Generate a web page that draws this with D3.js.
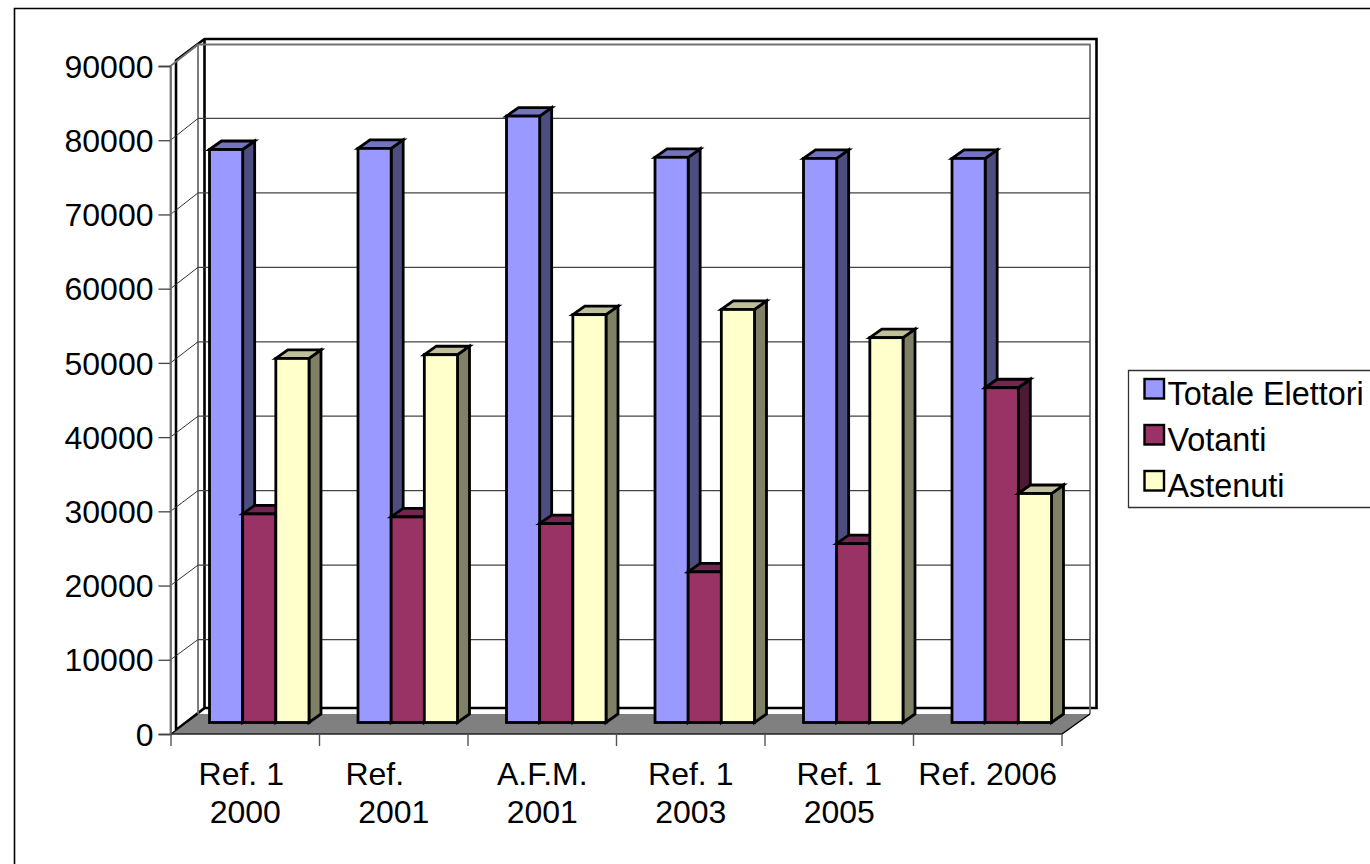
<!DOCTYPE html>
<html><head><meta charset="utf-8">
<script src="https://cdn.jsdelivr.net/npm/d3@7"></script>
<style>html,body{margin:0;padding:0;background:#fff;overflow:hidden}svg{display:block}text{font-family:"Liberation Sans",Arial,sans-serif;fill:#000}</style>
</head><body><svg id="c" width="1370" height="864"></svg>
<script>
const categories=[["Ref. 1","2000"],["Ref.","2001"],["A.F.M.","2001"],["Ref. 1","2003"],["Ref. 1","2005"],["Ref. 2006"]];
const seriesNames=["Totale Elettori","Votanti","Astenuti"];
const totale=[77200,77350,81700,76150,76000,76000];
const votanti=[28100,27700,26800,20300,24100,45100];
const astenuti=[49050,49550,54950,55650,51850,30850];
const tickValues=[0,10000,20000,30000,40000,50000,60000,70000,80000,90000];
const seriesValues=[totale,votanti,astenuti];
const faces=[["#9999ff","#7373bf","#4d4d80"],["#993366","#732650","#4d1a33"],["#ffffcc","#bfbf99","#808066"]];
const FS=32;
const svg=d3.select("#c");
svg.append("path").attr("d","M14.5,870V8.5H1380").attr("fill","none").attr("stroke","#000").attr("stroke-width",1.6);
const depth={dx:12,dy:-8.5};
const yFront=d3.scaleLinear().domain([0,90000]).range([734,66]);
const yBack=d3.scaleLinear().domain([0,90000]).range([714,44]);
const yBar=d3.scaleLinear().domain([0,90000]).range([722.5,54.5]);
const x=d3.scaleBand().domain(d3.range(6)).range([171,1062]);
const xs=d3.scaleBand().domain(d3.range(3)).range([38.5,138]);
svg.append("path").attr("d","M176,730V60.5L204.5,39H1096.5V708H204.5M204.5,39V708L176,730").attr("fill","none").attr("stroke","#000").attr("stroke-width",2.6);
svg.append("path").attr("d","M170.5,734V66L198,44.5H1090V714M198,44.5V714").attr("fill","none").attr("stroke","#707070").attr("stroke-width",1.8);
const grid=svg.append("g");
tickValues.filter(v=>v>0&&v<90000).forEach(v=>{
  grid.append("line").attr("x1",198).attr("x2",1090).attr("y1",yBack(v)).attr("y2",yBack(v)).attr("stroke","#444").attr("stroke-width",1.3);
  grid.append("line").attr("x1",170.5).attr("x2",198).attr("y1",yFront(v)).attr("y2",yBack(v)).attr("stroke","#333").attr("stroke-width",1);
});
svg.append("path").attr("d",`M171,734L198,714H1090L1062,734Z`).attr("fill","#808080").attr("stroke","none");
svg.append("path").attr("d",`M171,734L198,714M1062,734L1090,714`).attr("fill","none").attr("stroke","#000").attr("stroke-width",1.5);
const ay=svg.append("g").attr("transform","translate(170.5,0)").call(d3.axisLeft(yFront).tickValues(tickValues).tickFormat(d3.format("d")).tickSize(12).tickPadding(5));
ay.select(".domain").attr("stroke","#707070").attr("stroke-width",1.8);
ay.selectAll(".tick line").attr("stroke","#444").attr("stroke-width",1.3);
ay.selectAll("text").attr("font-size",FS).style("font-family",'"Liberation Sans"').attr("fill","#000").attr("dy","0.35em");
const ax=svg.append("g");
ax.append("line").attr("x1",171).attr("x2",1062).attr("y1",734).attr("y2",734).attr("stroke","#222").attr("stroke-width",1.6);
d3.range(7).forEach(i=>{const px=171+i*x.step();
  ax.append("line").attr("x1",px).attr("x2",px).attr("y1",734).attr("y2",746).attr("stroke","#555").attr("stroke-width",1.4);});
const lineShift=[[-4,0],[-19,0],[0,0],[0,0],[0,0],[0,0]];
categories.forEach((c,i)=>{
  const cx=x(i)+x.bandwidth()/2;
  c.forEach((t,k)=>{
    ax.append("text").attr("x",cx+lineShift[i][k]).attr("y",785+k*38).attr("text-anchor","middle").attr("font-size",FS).text(t);
  });
});
const bars=svg.append("g").attr("stroke","#000").attr("stroke-width",2.8).attr("stroke-linejoin","miter");
categories.forEach((c,i)=>{
  seriesValues.forEach((vals,s)=>{
    const x0=x(i)+xs(s),x1=x0+xs.bandwidth(),y0=yBar(0),y1=yBar(vals[i]),{dx,dy}=depth;
    bars.append("path").attr("fill",faces[s][2]).attr("d",`M${x1},${y1}L${x1+dx},${y1+dy}V${y0+dy}L${x1},${y0}Z`);
    bars.append("path").attr("fill",faces[s][1]).attr("d",`M${x0},${y1}L${x0+dx},${y1+dy}H${x1+dx}L${x1},${y1}Z`);
    bars.append("rect").attr("x",x0).attr("y",y1).attr("width",x1-x0).attr("height",y0-y1).attr("fill",faces[s][0]);
  });
});
const lg=svg.append("g");
lg.append("path").attr("d","M1380,370.5H1128.5V507.5H1380").attr("fill","#fff").attr("stroke","#333").attr("stroke-width",1.3);
seriesNames.forEach((n,i)=>{
  const ty=379+i*46;
  lg.append("rect").attr("x",1144.5).attr("y",ty).attr("width",19.5).attr("height",19.5).attr("fill",faces[i][0]).attr("stroke","#000").attr("stroke-width",2.4);
  lg.append("text").attr("x",1167.5).attr("y",ty+26).attr("font-size",FS+0.4).text(n);
});
</script></body></html>
